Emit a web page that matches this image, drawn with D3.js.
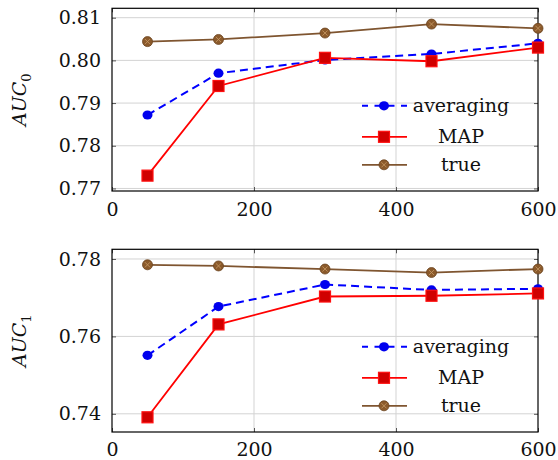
<!DOCTYPE html>
<html>
<head>
<meta charset="utf-8">
<script src="https://cdn.jsdelivr.net/npm/d3@7"></script>
<style>
  body { margin: 0; background: #fff; }
</style>
</head>
<body>
<svg id="chart" width="558" height="460"></svg>
<script>
const xs = [50, 150, 300, 450, 600];
const seriesNames = ['averaging', 'MAP', 'true'];

// panel 0 (AUC_0)
const avg0 = [0.7872, 0.7970, 0.8001, 0.8015, 0.8040];
const map0 = [0.7730, 0.7940, 0.8006, 0.7998, 0.8030];
const true0 = [0.8044, 0.8049, 0.8064, 0.8085, 0.8075];
const yTicks0 = [0.77, 0.78, 0.79, 0.80, 0.81];

// panel 1 (AUC_1)
const avg1 = [0.7551, 0.7677, 0.7734, 0.7720, 0.7723];
const map1 = [0.7391, 0.7631, 0.7703, 0.7705, 0.7711];
const true1 = [0.7785, 0.7782, 0.7774, 0.7765, 0.7774];
const yTicks1 = [0.74, 0.76, 0.78];

const xTicks = [0, 200, 400, 600];

const FONT = '"DejaVu Serif"';
const svg = d3.select('#chart');
const left = 112, right = 538;

const styles = {
  averaging: {stroke: '#0000ff', dash: '8,5', width: 2},
  MAP: {stroke: '#ff0000', dash: null, width: 1.8},
  true: {stroke: '#7f5530', dash: null, width: 1.8}
};

function marker(g, name, x, y) {
  if (name === 'averaging') {
    g.append('ellipse').attr('cx', x).attr('cy', y).attr('rx', 5).attr('ry', 4.6)
      .attr('fill', '#0000ee');
  } else if (name === 'MAP') {
    g.append('rect').attr('x', x - 5.5).attr('y', y - 5.5).attr('width', 11).attr('height', 11)
      .attr('fill', '#d00000').attr('stroke', '#ff1010').attr('stroke-width', 1.2);
  } else {
    g.append('circle').attr('cx', x).attr('cy', y).attr('r', 5)
      .attr('fill', '#8b5a2b').attr('stroke', '#6b4420').attr('stroke-width', 0.8);
    const d = 2.6;
    g.append('path')
      .attr('d', `M${x - d},${y - d}L${x + d},${y + d}M${x - d},${y + d}L${x + d},${y - d}`)
      .attr('stroke', '#c89a66').attr('stroke-width', 0.8);
  }
}

function panel(top, bottom, domain, yTicks, series, sub, xPad) {
  const x = d3.scaleLinear().domain([0, 600]).range([left, right]);
  const y = d3.scaleLinear().domain(domain).range([bottom, top]);
  const g = svg.append('g');

  // grid
  g.selectAll('.gy').data(yTicks).enter().append('line')
    .attr('x1', left).attr('x2', right)
    .attr('y1', d => y(d)).attr('y2', d => y(d))
    .attr('stroke', '#d3d3d3').attr('stroke-width', 1);
  g.selectAll('.gx').data([200, 400]).enter().append('line')
    .attr('y1', top).attr('y2', bottom)
    .attr('x1', d => x(d)).attr('x2', d => x(d))
    .attr('stroke', '#d3d3d3').attr('stroke-width', 1);

  // axes with inward ticks
  const axL = g.append('g').attr('transform', `translate(${left},0)`)
    .call(d3.axisLeft(y).tickValues(yTicks).tickSize(-4).tickPadding(11).tickFormat(d3.format('.2f')));
  const axR = g.append('g').attr('transform', `translate(${right},0)`)
    .call(d3.axisRight(y).tickValues(yTicks).tickSize(-4).tickFormat(''));
  const axB = g.append('g').attr('transform', `translate(0,${bottom})`)
    .call(d3.axisBottom(x).tickValues(xTicks).tickSize(-4).tickPadding(xPad).tickFormat(d3.format('d')));
  const axT = g.append('g').attr('transform', `translate(0,${top})`)
    .call(d3.axisTop(x).tickValues(xTicks).tickSize(-4).tickFormat(''));
  [axL, axR, axB, axT].forEach(a => {
    a.attr('font-family', null).attr('font-size', null);
    a.select('.domain').remove();
    a.selectAll('.tick line').attr('stroke', '#555');
    a.selectAll('text').style('font-family', FONT).attr('font-size', 19).attr('fill', '#111');
  });

  g.append('rect').attr('x', left).attr('y', top)
    .attr('width', right - left).attr('height', bottom - top)
    .attr('fill', 'none').attr('stroke', '#000').attr('stroke-width', 1.2);

  // y label
  const lab = g.append('text')
    .attr('transform', `translate(26,${(top + bottom) / 2}) rotate(-90)`)
    .attr('text-anchor', 'middle').attr('fill', '#111')
    .style('font-family', FONT).attr('font-size', 19);
  lab.append('tspan').style('font-style', 'italic').text('AUC');
  lab.append('tspan').attr('font-size', 13).attr('dy', 5).text(sub);

  const line = d3.line().x((d, i) => x(xs[i])).y(d => y(d));
  seriesNames.forEach((name, k) => {
    const vals = series[k];
    const st = styles[name];
    g.append('path').datum(vals).attr('d', line)
      .attr('fill', 'none').attr('stroke', st.stroke).attr('stroke-width', st.width)
      .attr('stroke-dasharray', st.dash);
    vals.forEach((v, i) => marker(g, name, x(xs[i]), y(v)));
  });

  // legend
  const rows = [97.5, 128.5, 156.5];
  seriesNames.forEach((name, k) => {
    const ly = top + rows[k];
    const st = styles[name];
    g.append('line').attr('x1', 362).attr('x2', 407).attr('y1', ly).attr('y2', ly)
      .attr('stroke', st.stroke).attr('stroke-width', st.width)
      .attr('stroke-dasharray', name === 'averaging' ? '6,6.5,20,6.5,6' : null);
    marker(g, name, 384, ly);
    g.append('text').attr('x', 461).attr('y', ly + 6).attr('text-anchor', 'middle')
      .style('font-family', FONT).attr('font-size', 19)
      .attr('fill', '#111').text(name);
  });
}

panel(8.3, 191, [0.7694, 0.8122], yTicks0, [avg0, map0, true0], '0', 12);
panel(249.3, 432, [0.7353, 0.7825], yTicks1, [avg1, map1, true1], '1', 11);
</script>
</body>
</html>
